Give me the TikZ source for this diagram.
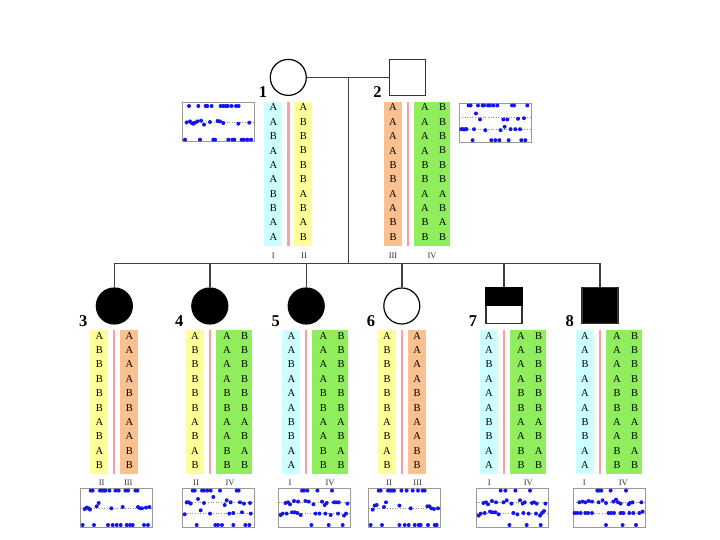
\documentclass[tikz,border=0pt]{standalone}
\usepackage{fontspec}
\setmainfont{Liberation Serif}
\definecolor{cyanc}{HTML}{CCFFFF}
\definecolor{yelc}{HTML}{FFFF99}
\definecolor{orac}{HTML}{FAC090}
\definecolor{grnc}{HTML}{90EE5C}
\definecolor{redc}{HTML}{F8A0A0}
\definecolor{dotb}{HTML}{1414F0}
\def\hI{A,A,B,A,A,A,B,B,A,A}
\def\hII{A,B,B,B,B,B,A,B,A,B}
\def\hIII{A,A,A,A,B,B,A,A,B,B}
\def\hIV{A/B,A/B,A/B,A/B,B/B,B/B,A/A,A/B,B/A,B/B}
\def\dPone{6.7/3.3,16/3.3,23.3/3.3,25/3.3,29.3/3.3,38.3/3.3,41/3.3,43.5/3.3,45.5/3.3,49.3/3.3,53.7/3.3,56.3/3.3,%
4.3/19.7,7.7/18.7,9.3/20.3,11/21,12.7/20,15/18.7,18.7/18,21.7/22,27.7/19.3,35.3/18.3,37.7/18.7,41/20.3,56/21,67/20,%
2.7/37,17.7/37,31/37,32.7/37,46/37,50/37,52/37,59.3/37,61.7/37,65/37,68.7/37}
\def\dPtwo{9.3/2,11.3/2,18.7/2,23.3/2,24.7/2,28.7/2,30.7/2,34/2,38/2,52.7/2,54.7/2,68/2,%
16.7/10,20.7/16,44/16,48/16,58.7/15.3,64.7/14.7,%
2/25.7,3.3/25.7,4.7/26,6/25.7,7.3/25.7,14.7/25.7,26/26.7,41.3/26.7,45.3/23.3,51.3/25.7,56/25.7,60.7/25.7,%
13.3/36.7,32/36.7,36/36.7,40/36.7,49.3/36.7,62/36.7,66/36.7}
\def\dCthree{10/2.3,12/2.3,19.3/2.3,21.3/2.3,23.3/2.3,24.7/2.3,28.7/2.3,34.7/2.3,38/2.3,44.7/2.3,47.3/2.3,54.7/2.3,56.7/2.3,%
4/20.7,6/19.3,8/20,9.3/21.3,16/18,18/14.7,30.7/20,42/18.7,57.3/18.7,59.3/20,61.3/20,65.3/19.3,68.7/18.7,%
2/36.7,13.3/36.7,27.3/36.7,32/36.7,36/36.7,40/36.7,46/36.7,49.3/36.7,52/36.7,63.3/36.7,67.3/36.7}
\def\dCfour{10.7/2.3,12.7/2.3,20/2.3,22/2.3,25.3/2.3,28.7/2.3,38/2.3,54.7/2.3,56.7/2.3,%
4.7/14,6.7/14,8.7/15.3,16/10.7,22/14.7,31.3/8.7,42.7/16.7,44.7/12,48.7/14,58/14,62/15.3,68/14.7,%
2.7/26,18.7/22,28/25.3,47.3/25.3,51.3/24.7,60/24,68.7/25.3,%
14.7/36.7,33.3/36.7,36/36.7,40/36.7,51.3/36.7,63.3/36.7,67.3/36.7}
\def\dCfive{23.3/2.3,25.3/2.3,28.7/2.3,38.7/2.3,53.3/2.3,%
6.7/14.7,9.3/14,11.3/16,15.3/12.7,19.3/13.3,26.7/12.7,30/13.3,34.7/16,43.3/13.3,46/16.7,48/14.7,55.3/14,57.3/14,60/14,68.7/15.3,%
2/26.7,4/25.3,8/25.3,13.3/24,16/24,18.7/24.7,22/26.7,36.7/25.3,40.7/25.3,46.7/25.3,52/26.7,59.3/25.3,65.3/27.3,67.3/25.3,%
32.7/36.7,50/36.7,64/36.7}
\def\dCsix{10/2.3,12/2.3,19.3/2.3,21.3/2.3,23.3/2.3,25.3/2.3,32.7/2.3,38/2.3,44/2.3,49.3/2.3,54/2.3,56/2.3,%
4/21.3,6/17.3,8/16.7,15.3/18.7,17.3/14,30.7/17.3,42/20,58.7/18,60.7/18,62.7/20,65.3/20.7,69.3/20,%
2/36.7,13.3/36.7,30.7/36.7,36/36.7,40/36.7,46/36.7,50/36.7,52/36.7,59.3/36.7,66/36.7,68/36.7}
\def\dCseven{24/2.3,28.7/2.3,38.7/2.3,53.3/2.3,%
6.7/14.7,9.3/14,11.3/16,15.3/12.7,19.3/14,26.7/14,30/12,34.7/15.3,43.3/12,46/15.3,48/14,55.3/14.7,57.3/14,60/15.3,68.7/15.3,%
2/27.3,4/25.3,8/24.7,13.3/23.3,16/24,18.7/24,22/26,36.7/24.7,40.7/26,46.7/24.7,52/25.3,59.3/25.3,63.3/27.3,65.3/24.7,67.3/22.7,%
32.7/36.7,50/36.7,64/36.7}
\def\dCeight{24/2.3,26/2.3,28/2.3,37.3/2.3,52.7/2.3,%
6/14,9.3/13.3,12/14,15.3/12.7,18.7/13.3,25.3/14,29.3/12,32.7/14.7,40/13.3,42.7/11.3,44.7/14,47.3/15.3,55.3/16,56.7/14.7,59.3/14,68/14,%
1.3/24.7,4/24.7,7.3/24.7,12/24.7,14.7/24.7,18.7/24.7,35.3/24.7,38/24.7,40.7/24.7,47.3/24.7,50/24.7,56/24.7,60/24.7,66/24.7,69.3/23.3,%
32.7/36.7,49.3/36.7,62.7/36.7}
\tikzset{
  cell/.style={font=\fontsize{10.5}{10.5}\selectfont, inner sep=0pt, text=black},
  rom/.style={font=\fontsize{8.5}{8.5}\selectfont, inner sep=0pt, text=black!80},
  num/.style={font=\bfseries\fontsize{16.5}{16.5}\selectfont, inner sep=0pt},
  female/.style={circle, draw=black, line width=1.2pt, minimum size=36pt, inner sep=0pt},
  male/.style={rectangle, draw=black!80, line width=1.2pt, minimum size=36pt, inner sep=0pt},
  pedline/.style={draw=black!75, line width=1.4pt},
  frame/.style={draw=black!40, line width=0.8pt},
  dotline/.style={draw=black!45, dotted, line width=0.6pt},
  dotc/.style={fill=dotb}
}
% single column: name, x-left, top, colour, letters
\newcommand\hcol[5]{%
  \fill[#4] (#2,#3) rectangle ++(18,144);
  \foreach \L [count=\i from 0] in #5 {\node[cell] (#1\i) at (#2+9,#3+5.7+14.38*\i) {\L};}
}
% green two-letter column: name, x-left, top, pairs
\newcommand\gcol[4]{%
  \fill[grnc] (#2,#3) rectangle ++(36,144);
  \foreach \L/\R [count=\i from 0] in #4 {%
    \node[cell] (#1l\i) at (#2+11,#3+5.7+14.38*\i) {\L};
    \node[cell] (#1r\i) at (#2+28.7,#3+5.7+14.38*\i) {\R};}
}
% red separator: centre x, top
\newcommand\redsep[2]{\fill[redc] (#1-1.2,#2) rectangle ++(2.4,144);}
% plot: x, y, dotted levels, dots
\newcommand\snpbox[4]{%
  \begin{scope}[shift={(#1,#2)}]
    \foreach \yy in {#3} \draw[dotline] (0,\yy) -- (72,\yy);
    \draw[frame] (0,0) rectangle (72,39);
    \foreach \px/\py in #4 \fill[dotc] (\px,\py) circle (2pt);
  \end{scope}}
\begin{document}
\begin{tikzpicture}[x=1pt,y=-1pt]
\useasboundingbox (0,0) rectangle (720,540);
\fill[white] (0,0) rectangle (720,540);

% symbols
\node[female] (p1) at (288.3,77.4) {};
\node[male] (p2) at (407.5,77.4) {};
\node[female, fill=black] (c3) at (114.3,306) {};
\node[female, fill=black] (c4) at (209.8,306) {};
\node[female, fill=black] (c5) at (306.2,306) {};
\node[female] (c6) at (401.8,306) {};
\node[male] (c7) at (504,305.7) {};
\fill[black] (c7.north west) rectangle (c7.east);
\node[male, fill=black] (c8) at (600,305.7) {};

\coordinate (m) at (348.3,77.4);
\coordinate (s) at (348.3,263.3);

% connectors
\draw[pedline] (p1.east) -- (p2.west);
\draw[pedline] (m) -- (s);
\draw[pedline] (c3.north |- s) -- (c8.north |- s);
\foreach \c in {c3,c4,c5,c6,c7,c8} \draw[pedline] (\c.north |- s) -- (\c.north);

% numbers
\node[num] (n1) at (263,92.5) {1};
\node[num] (n2) at (377.5,92.5) {2};
\node[num] (n3) at (83.3,320.8) {3};
\node[num] (n4) at (179.3,320.8) {4};
\node[num] (n5) at (275.8,320.8) {5};
\node[num] (n6) at (371,320.8) {6};
\node[num] (n7) at (473,320.8) {7};
\node[num] (n8) at (569.7,320.8) {8};

% parents' haplotypes
\hcol{pa}{264.3}{101.7}{cyanc}{\hI}
\redsep{288.3}{101.7}
\hcol{pb}{294.3}{101.7}{yelc}{\hII}
\hcol{qa}{384}{101.7}{orac}{\hIII}
\redsep{407.9}{101.7}
\gcol{qb}{414}{101.7}{\hIV}

% children's haplotypes
\hcol{ta}{90.3}{330}{yelc}{\hII}
\redsep{114.1}{330}
\hcol{tb}{120.3}{330}{orac}{\hIII}

\hcol{ua}{186}{330}{yelc}{\hII}
\redsep{209.9}{330}
\gcol{ub}{216}{330}{\hIV}

\hcol{va}{282.3}{330}{cyanc}{\hI}
\redsep{306.2}{330}
\gcol{vb}{312.3}{330}{\hIV}

\hcol{wa}{378}{330}{yelc}{\hII}
\redsep{402}{330}
\hcol{wb}{408.2}{330}{orac}{\hIII}

\hcol{xa}{480}{330}{cyanc}{\hI}
\redsep{503.9}{330}
\gcol{xb}{510}{330}{\hIV}

\hcol{ya}{576}{330}{cyanc}{\hI}
\redsep{599.9}{330}
\gcol{yb}{606}{330}{\hIV}

% roman labels
\node[rom] (r1) at (273.3,256) {I};
\node[rom] (r2) at (304,256) {II};
\node[rom] (r3) at (393,256) {III};
\node[rom] (r4) at (432,256) {IV};
\node[rom] (r5) at (101.7,482.7) {II};
\node[rom] (r6) at (128.3,482.7) {III};
\node[rom] (r7) at (196,482.7) {II};
\node[rom] (r8) at (230,482.7) {IV};
\node[rom] (r9) at (290,482.7) {I};
\node[rom] (r10) at (330,482.7) {IV};
\node[rom] (r11) at (389,482.7) {II};
\node[rom] (r12) at (417.7,482.7) {III};
\node[rom] (r13) at (489.3,482.7) {I};
\node[rom] (r14) at (528.3,482.7) {IV};
\node[rom] (r15) at (584.3,482.7) {I};
\node[rom] (r16) at (623.3,482.7) {IV};

% plots
\snpbox{182.3}{102.7}{20}{\dPone}
\snpbox{459.3}{103.5}{14,25.7}{\dPtwo}
\snpbox{80.7}{488.3}{19.5}{\dCthree}
\snpbox{182}{488.3}{14,25}{\dCfour}
\snpbox{278.7}{488.3}{14,25.3}{\dCfive}
\snpbox{368.7}{488.3}{19.5}{\dCsix}
\snpbox{476.7}{488.3}{14,25}{\dCseven}
\snpbox{573.3}{488.3}{14,25}{\dCeight}
\end{tikzpicture}
\end{document}
